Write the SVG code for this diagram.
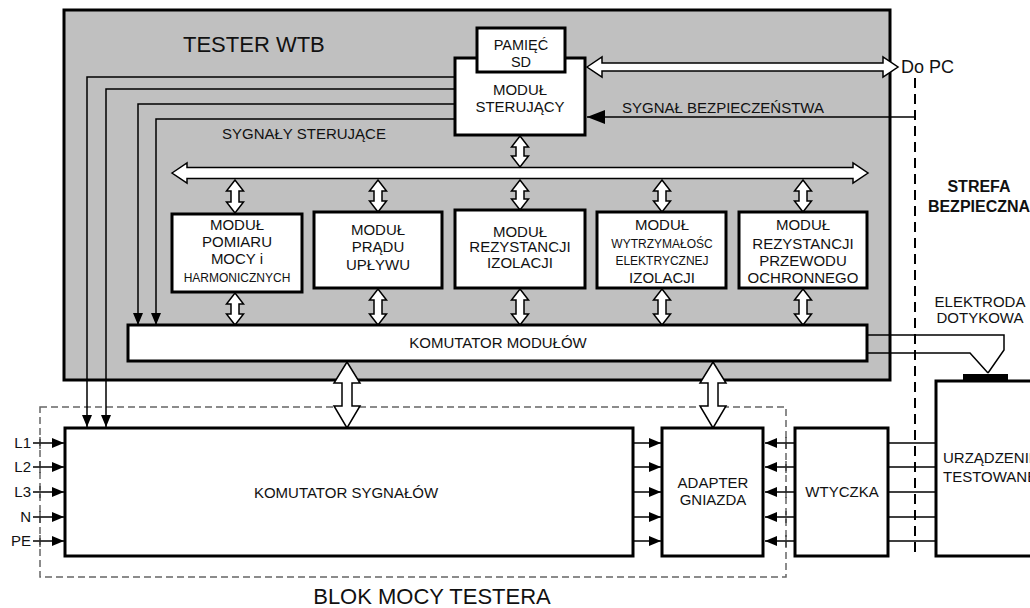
<svg xmlns="http://www.w3.org/2000/svg" width="1030" height="608" viewBox="0 0 1030 608">
<defs>
<marker id="arr" markerUnits="userSpaceOnUse" markerWidth="12" markerHeight="10" refX="12" refY="5" orient="auto">
<path d="M0,0 L12,5 L0,10 z" fill="#000"/>
</marker>
<marker id="arrBig" markerUnits="userSpaceOnUse" markerWidth="18" markerHeight="14" refX="18" refY="7" orient="auto">
<path d="M0,0 L18,7 L0,14 z" fill="#000"/>
</marker>
</defs>
<style>
text{font-family:"Liberation Sans",Arial,sans-serif;fill:#111;}
.box{fill:#fff;stroke:#000;stroke-width:3;}
.dbl{fill:#fff;stroke:#000;stroke-width:1.5;stroke-linejoin:miter;}
.sig{fill:none;stroke:#000;stroke-width:1.5;}
.t15{font-size:15px;text-anchor:middle;}
.t12{font-size:12px;text-anchor:middle;}
.lbl{font-size:15px;}
.tick{stroke:#333;stroke-width:1.2;}
</style>

<g id="tester">
<rect x="64" y="10" width="826" height="370" fill="#c0c0c0" stroke="#000" stroke-width="3"/>
<text x="183" y="52" font-size="22">TESTER WTB</text>
</g>

<g id="blok-mocy">
<rect x="40" y="407" width="746" height="170" fill="none" stroke="#666" stroke-width="1.5" stroke-dasharray="7,4"/>
<text x="432" y="604" font-size="22" text-anchor="middle">BLOK MOCY TESTERA</text>
</g>

<g id="connectors">
<!-- control signals -->
<polyline class="sig" points="455,77 87,77 87,427" marker-end="url(#arr)"/>
<polyline class="sig" points="455,89 106,89 106,427" marker-end="url(#arr)"/>
<polyline class="sig" points="455,104 138,104 138,325" marker-end="url(#arr)"/>
<polyline class="sig" points="455,119 156,119 156,325" marker-end="url(#arr)"/>
<text class="lbl" x="222" y="139">SYGNAŁY  STERUJĄCE</text>
<!-- safety signal -->
<line class="sig" x1="915" y1="117" x2="587" y2="117" marker-end="url(#arrBig)"/>
<text class="lbl" x="622" y="113">SYGNAŁ BEZPIECZEŃSTWA</text>
<!-- Do PC double arrow -->
<polygon class="dbl" points="587,67 602,57 602,63 883,63 883,57 898,67 883,77 883,71 602,71 602,77"/>
<!-- main bus -->
<polygon class="dbl" points="172,173 187,163 187,167.5 853,167.5 853,163 868,173 853,183 853,178.5 187,178.5 187,183"/>
<!-- small vertical double arrows -->
<polygon class="dbl" points="520,136 528.5,147 524,147 524,156 528.5,156 520,167 511.5,156 516,156 516,147 511.5,147"/>
<polygon class="dbl" points="235,180 243.5,191 239,191 239,202 243.5,202 235,213 226.5,202 231,202 231,191 226.5,191"/>
<polygon class="dbl" points="378,180 386.5,191 382,191 382,201 386.5,201 378,212 369.5,201 374,201 374,191 369.5,191"/>
<polygon class="dbl" points="520,180 528.5,191 524,191 524,199 528.5,199 520,210 511.5,199 516,199 516,191 511.5,191"/>
<polygon class="dbl" points="662,180 670.5,191 666,191 666,201 670.5,201 662,212 653.5,201 658,201 658,191 653.5,191"/>
<polygon class="dbl" points="803,180 811.5,191 807,191 807,201 811.5,201 803,212 794.5,201 799,201 799,191 794.5,191"/>
<polygon class="dbl" points="235,293 243.5,304 239,304 239,314 243.5,314 235,325 226.5,314 231,314 231,304 226.5,304"/>
<polygon class="dbl" points="378,289 386.5,300 382,300 382,314 386.5,314 378,325 369.5,314 374,314 374,300 369.5,300"/>
<polygon class="dbl" points="520,289 528.5,300 524,300 524,314 528.5,314 520,325 511.5,314 516,314 516,300 511.5,300"/>
<polygon class="dbl" points="662,289 670.5,300 666,300 666,314 670.5,314 662,325 653.5,314 658,314 658,300 653.5,300"/>
<polygon class="dbl" points="803,289 811.5,300 807,300 807,314 811.5,314 803,325 794.5,314 799,314 799,300 794.5,300"/>
<!-- big vertical double arrows -->
<polygon class="dbl" points="347,362 360,383 352,383 352,406 360,406 347,428 334,406 342,406 342,383 334,383"/>
<polygon class="dbl" points="713,362 726,383 718,383 718,406 726,406 713,428 700,406 708,406 708,383 700,383"/>
<!-- power inputs -->
<line class="sig" x1="33" y1="443" x2="64" y2="443" marker-end="url(#arr)"/>
<line class="sig" x1="33" y1="467" x2="64" y2="467" marker-end="url(#arr)"/>
<line class="sig" x1="33" y1="492" x2="64" y2="492" marker-end="url(#arr)"/>
<line class="sig" x1="33" y1="517" x2="64" y2="517" marker-end="url(#arr)"/>
<line class="sig" x1="33" y1="541" x2="64" y2="541" marker-end="url(#arr)"/>
<line class="tick" x1="40" y1="437" x2="40" y2="449"/>
<line class="tick" x1="40" y1="461" x2="40" y2="473"/>
<line class="tick" x1="40" y1="486" x2="40" y2="498"/>
<line class="tick" x1="40" y1="511" x2="40" y2="523"/>
<line class="tick" x1="40" y1="535" x2="40" y2="547"/>
<text x="31" y="448" font-size="15" text-anchor="end">L1</text>
<text x="31" y="472" font-size="15" text-anchor="end">L2</text>
<text x="31" y="497" font-size="15" text-anchor="end">L3</text>
<text x="31" y="522" font-size="15" text-anchor="end">N</text>
<text x="31" y="546" font-size="15" text-anchor="end">PE</text>
<!-- komutator -> adapter -->
<line class="sig" x1="633" y1="443" x2="661" y2="443" marker-end="url(#arr)"/>
<line class="sig" x1="633" y1="467" x2="661" y2="467" marker-end="url(#arr)"/>
<line class="sig" x1="633" y1="492" x2="661" y2="492" marker-end="url(#arr)"/>
<line class="sig" x1="633" y1="517" x2="661" y2="517" marker-end="url(#arr)"/>
<line class="sig" x1="633" y1="541" x2="661" y2="541" marker-end="url(#arr)"/>
<!-- wtyczka -> adapter -->
<line class="sig" x1="795" y1="443" x2="765" y2="443" marker-end="url(#arr)"/>
<line class="sig" x1="795" y1="467" x2="765" y2="467" marker-end="url(#arr)"/>
<line class="sig" x1="795" y1="492" x2="765" y2="492" marker-end="url(#arr)"/>
<line class="sig" x1="795" y1="517" x2="765" y2="517" marker-end="url(#arr)"/>
<line class="sig" x1="795" y1="541" x2="765" y2="541" marker-end="url(#arr)"/>
<line class="tick" x1="786" y1="437" x2="786" y2="449"/>
<line class="tick" x1="786" y1="461" x2="786" y2="473"/>
<line class="tick" x1="786" y1="486" x2="786" y2="498"/>
<line class="tick" x1="786" y1="511" x2="786" y2="523"/>
<line class="tick" x1="786" y1="535" x2="786" y2="547"/>
<!-- wtyczka -> urzadzenie -->
<line class="sig" x1="888" y1="443" x2="935" y2="443"/>
<line class="sig" x1="885" y1="467" x2="935" y2="467"/>
<line class="sig" x1="888" y1="492" x2="935" y2="492"/>
<line class="sig" x1="885" y1="517" x2="935" y2="517"/>
<line class="sig" x1="888" y1="541" x2="935" y2="541"/>
<!-- electrode wires -->
<polyline class="sig" points="865,335 1004,335 1004,350 988,373"/>
<polyline class="sig" points="865,353 970,353 988,373"/>
<!-- safe zone boundary -->
<line x1="915" y1="78" x2="915" y2="556" stroke="#000" stroke-width="2" stroke-dasharray="10,6"/>
</g>

<g id="modul-sterujacy">
<rect class="box" x="455" y="58" width="130" height="77"/>
<text class="t15" x="520" y="95">MODUŁ</text>
<text class="t15" x="520" y="112">STERUJĄCY</text>
</g>

<g id="pamiec-sd">
<rect class="box" x="477" y="28" width="88" height="44"/>
<text x="521" y="50" font-size="14.5" text-anchor="middle">PAMIĘĆ</text>
<text x="521" y="67" font-size="14.5" text-anchor="middle">SD</text>
</g>

<g id="modul-pomiaru">
<rect class="box" x="172" y="214" width="130" height="78"/>
<text class="t15" x="237" y="230">MODUŁ</text>
<text class="t15" x="237" y="247">POMIARU</text>
<text class="t15" x="237" y="264">MOCY i</text>
<text class="t12" x="237" y="282">HARMONICZNYCH</text>
</g>

<g id="modul-pradu">
<rect class="box" x="314" y="212" width="128" height="76"/>
<text class="t15" x="378" y="235">MODUŁ</text>
<text class="t15" x="378" y="252">PRĄDU</text>
<text class="t15" x="378" y="270">UPŁYWU</text>
</g>

<g id="modul-rezystancji-izolacji">
<rect class="box" x="455" y="210" width="130" height="78"/>
<text class="t15" x="520" y="237">MODUŁ</text>
<text class="t15" x="520" y="252">REZYSTANCJI</text>
<text class="t15" x="520" y="268">IZOLACJI</text>
</g>

<g id="modul-wytrzymalosci">
<rect class="box" x="597" y="212" width="129" height="76"/>
<text class="t15" x="662" y="230">MODUŁ</text>
<text class="t12" x="662" y="248">WYTRZYMAŁOŚC</text>
<text class="t12" x="662" y="265" font-size="12.5">ELEKTRYCZNEJ</text>
<text class="t15" x="662" y="283">IZOLACJI</text>
</g>

<g id="modul-rezystancji-przewodu">
<rect class="box" x="739" y="212" width="128" height="76"/>
<text class="t15" x="803" y="230">MODUŁ</text>
<text class="t15" x="803" y="249">REZYSTANCJI</text>
<text class="t15" x="803" y="266">PRZEWODU</text>
<text class="t15" x="803" y="283">OCHRONNEGO</text>
</g>

<g id="komutator-modulow">
<rect class="box" x="128" y="325" width="739" height="36"/>
<text class="t15" x="498" y="348">KOMUTATOR  MODUŁÓW</text>
</g>

<g id="komutator-sygnalow">
<rect class="box" x="65" y="428" width="568" height="128"/>
<text class="t15" x="346" y="498">KOMUTATOR  SYGNAŁÓW</text>
</g>

<g id="adapter-gniazda">
<rect class="box" x="662" y="428" width="101" height="128"/>
<text class="t15" x="713" y="488">ADAPTER</text>
<text class="t15" x="713" y="505">GNIAZDA</text>
</g>

<g id="wtyczka">
<rect class="box" x="795" y="428" width="93" height="128"/>
<text class="t15" x="842" y="497">WTYCZKA</text>
</g>

<g id="urzadzenie">
<rect class="box" x="936" y="381" width="110" height="175"/>
<rect x="963" y="374" width="45" height="7" fill="#000"/>
<text x="943" y="463" font-size="15">URZĄDZENIE</text>
<text x="943" y="482" font-size="15">TESTOWANE</text>
</g>

<g id="labels">
<text x="901" y="73" font-size="18">Do PC</text>
<text x="979" y="192" font-size="16" font-weight="bold" text-anchor="middle">STREFA</text>
<text x="979" y="212" font-size="16" font-weight="bold" text-anchor="middle">BEZPIECZNA</text>
<text class="t15" x="980" y="307">ELEKTRODA</text>
<text class="t15" x="980" y="323">DOTYKOWA</text>
</g>
</svg>
